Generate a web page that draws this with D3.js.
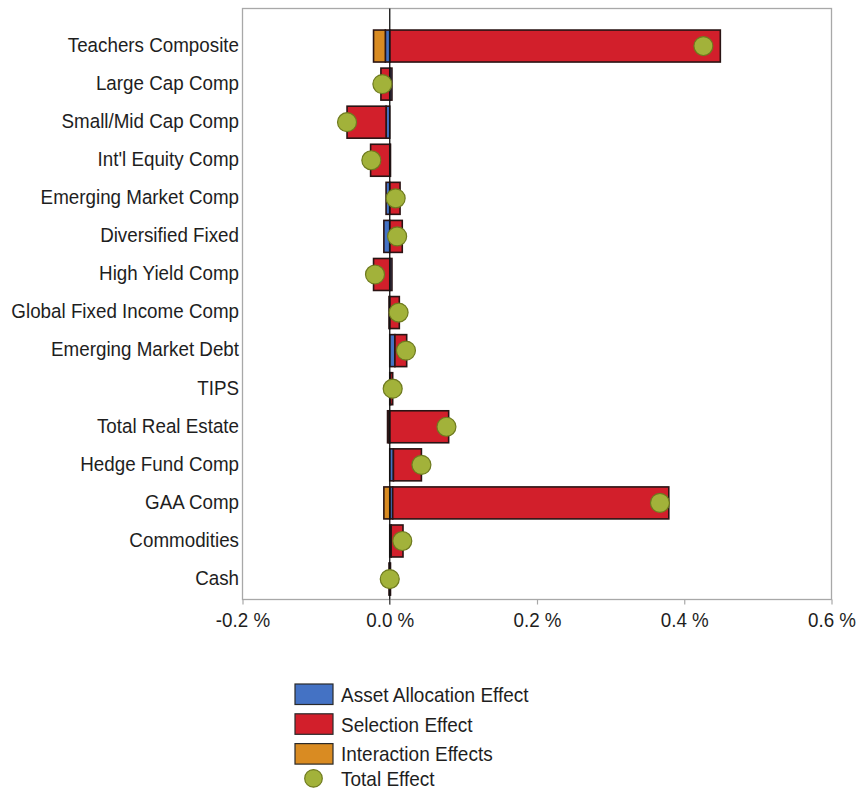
<!DOCTYPE html>
<html>
<head>
<meta charset="utf-8">
<script src="https://cdn.jsdelivr.net/npm/d3@7"></script>
<style>
  html, body { margin: 0; padding: 0; background: #ffffff; }
  svg { display: block; }
  text { font-family: "Liberation Sans", Arial, sans-serif; fill: #1e1e1e; }
</style>
</head>
<body>
<svg id="chart" width="858" height="795"></svg>
<script>
const categories = [
  "Teachers Composite", "Large Cap Comp", "Small/Mid Cap Comp", "Int'l Equity Comp",
  "Emerging Market Comp", "Diversified Fixed", "High Yield Comp", "Global Fixed Income Comp",
  "Emerging Market Debt", "TIPS", "Total Real Estate", "Hedge Fund Comp", "GAA Comp",
  "Commodities", "Cash"
];
// values in percent
const assetAllocation = [-0.006, 0.003, -0.005, 0.001, -0.005, -0.008, 0.003, -0.001, 0.007, 0.001, -0.001, 0.005, 0.004, 0.002, 0.001];
const selectionEffect = [0.449, -0.012, -0.053, -0.026, 0.014, 0.017, -0.022, 0.013, 0.016, 0.003, 0.080, 0.038, 0.375, 0.016, -0.001];
const interactionEffect = [-0.016, 0, 0, 0, 0, 0, 0, 0, 0, 0, -0.002, 0, -0.008, 0, 0];
const totalEffect = [0.426, -0.010, -0.058, -0.025, 0.008, 0.010, -0.020, 0.012, 0.022, 0.004, 0.077, 0.043, 0.367, 0.017, 0.000];
const xTicks = [-0.2, 0.0, 0.2, 0.4, 0.6];
const seriesNames = ["Asset Allocation Effect", "Selection Effect", "Interaction Effects"];
const totalName = "Total Effect";

const colors = { "Asset Allocation Effect": "#4472c4", "Selection Effect": "#d21f2b", "Interaction Effects": "#d98b22" };
const dotFill = "#a2b23a", dotStroke = "#6e7a1e";
const stretch = "scale(1,1.1)";

const table = categories.map((c, i) => ({
  category: c,
  "Asset Allocation Effect": assetAllocation[i],
  "Selection Effect": selectionEffect[i],
  "Interaction Effects": interactionEffect[i],
  total: totalEffect[i]
}));

const svg = d3.select("#chart");
const plot = { left: 242.5, right: 831.5, top: 8.5, bottom: 599.5 };

const x = d3.scaleLinear().domain([-0.2, 0.6]).range([plot.left, plot.right]);
const y = d3.scaleBand().domain(categories).range([27, 598.1]).paddingInner(0.16).paddingOuter(0.08);

// frame
svg.append("rect")
  .attr("x", plot.left).attr("y", plot.top)
  .attr("width", plot.right - plot.left).attr("height", plot.bottom - plot.top)
  .attr("fill", "none").attr("stroke", "#a8a8a8").attr("stroke-width", 1.3);

// stacked bars
const stack = d3.stack().keys(seriesNames).offset(d3.stackOffsetDiverging);
const stacked = stack(table);

svg.append("g").selectAll("g")
  .data(stacked).join("g")
  .attr("fill", d => colors[d.key])
  .selectAll("rect")
  .data(d => d).join("rect")
  .attr("x", d => x(Math.min(d[0], d[1])))
  .attr("width", d => Math.abs(x(d[1]) - x(d[0])))
  .attr("y", d => y(d.data.category))
  .attr("height", y.bandwidth())
  .attr("stroke", "#2a1414").attr("stroke-width", 1.6)
  .attr("display", d => (d[1] - d[0]) === 0 ? "none" : null);

// zero line
svg.append("line")
  .attr("x1", x(0)).attr("x2", x(0))
  .attr("y1", plot.top).attr("y2", plot.bottom + 5)
  .attr("stroke", "#111").attr("stroke-width", 1.3);

// total effect dots
svg.append("g").selectAll("circle")
  .data(table).join("circle")
  .attr("cx", d => x(d.total))
  .attr("cy", d => y(d.category) + y.bandwidth() / 2)
  .attr("r", 9.5)
  .attr("fill", dotFill).attr("stroke", dotStroke).attr("stroke-width", 1.2);

// x axis
const xAxis = svg.append("g")
  .attr("transform", `translate(0,${plot.bottom})`)
  .call(d3.axisBottom(x).tickValues(xTicks).tickSize(5).tickPadding(7)
    .tickFormat(d => d.toFixed(1) + " %"));
xAxis.select(".domain").remove();
xAxis.selectAll(".tick line").attr("stroke", "#a8a8a8").attr("stroke-width", 1.2);
xAxis.selectAll(".tick text")
  .attr("font-size", "18.8px").attr("fill", "#1e1e1e").attr("transform", stretch)
  .style("font-family", "'Liberation Sans', Arial, sans-serif");

// y labels
const yAxis = svg.append("g")
  .attr("transform", `translate(${plot.left},0)`)
  .call(d3.axisLeft(y).tickSize(0).tickPadding(3.5));
yAxis.select(".domain").remove();
yAxis.selectAll(".tick text")
  .attr("font-size", "18.8px").attr("fill", "#1e1e1e").attr("transform", stretch)
  .attr("dy", "0.28em")
  .style("font-family", "'Liberation Sans', Arial, sans-serif");

// legend
const legend = svg.append("g").attr("transform", "translate(295,684)");
const rowStep = 29.8;
seriesNames.forEach((name, i) => {
  const g = legend.append("g").attr("transform", `translate(0,${i * rowStep})`);
  g.append("rect").attr("x", 0).attr("y", 0).attr("width", 38).attr("height", 20.5)
    .attr("fill", colors[name]).attr("stroke", "#2a2a2a").attr("stroke-width", 1.2);
  g.append("g").attr("transform", "translate(46,10.5)")
    .append("text").attr("dy", "0.35em").attr("transform", stretch)
    .attr("font-size", "19px").text(name);
});
const tg = legend.append("g").attr("transform", `translate(0,${3 * rowStep})`);
tg.append("circle").attr("cx", 18.5).attr("cy", 5).attr("r", 8.8)
  .attr("fill", dotFill).attr("stroke", dotStroke).attr("stroke-width", 1.2);
tg.append("g").attr("transform", "translate(46,5)")
  .append("text").attr("dy", "0.35em").attr("transform", stretch)
  .attr("font-size", "19px").text(totalName);
</script>
</body>
</html>
